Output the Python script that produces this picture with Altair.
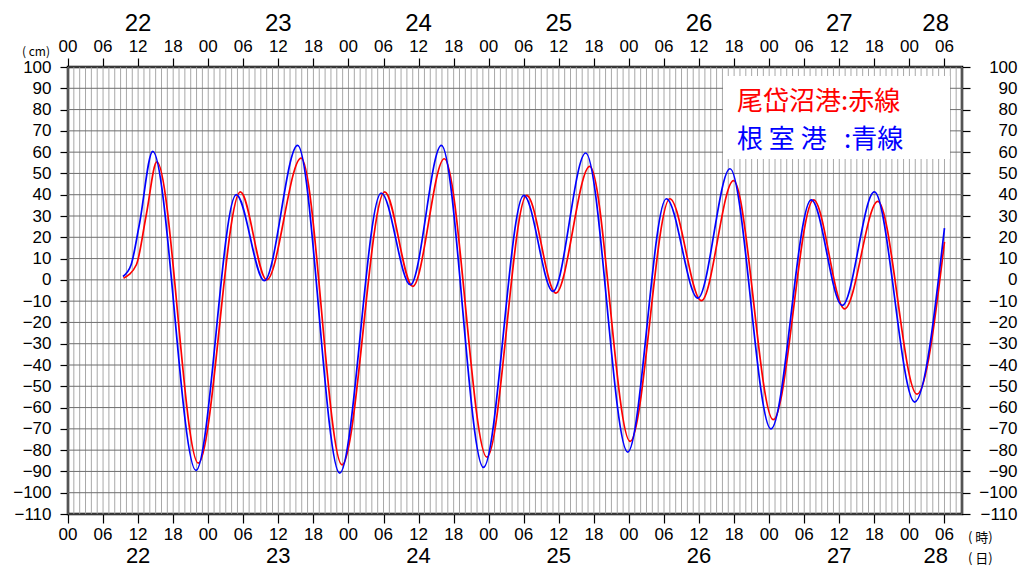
import altair as alt
import pandas as pd

# ---- data (hours since 22日 00時, cm) ----
DAYS = ["22", "23", "24", "25", "26", "27", "28"]
HOUR_LABELS = ["00", "06", "12", "18"]
Y_TICKS = list(range(-110, 101, 10))
X_END = 153

RED_T = [9.5, 11.7, 13.4, 15.2, 22.3, 29.5, 34.0, 39.9, 46.9, 54.2, 59.0, 64.4,
         71.7, 78.5, 83.5, 89.3, 96.2, 103.0, 108.4, 113.9, 120.7, 127.6, 132.9,
         138.6, 145.3, 150.0]
RED_V = [0.8, 7.1, 30.6, 55.4, -86.1, 41.3, 0.0, 57.2, -86.9, 41.3, -3.1, 56.9,
         -83.3, 39.7, -6.2, 53.3, -75.9, 38.1, -9.8, 46.6, -65.7, 37.6, -13.6,
         36.9, -53.7, 17.8]

BLUE_T = [9.4, 10.8, 12.2, 14.5, 21.9, 28.8, 33.6, 39.3, 46.5, 53.6, 58.6, 63.9,
          71.1, 78.0, 83.0, 88.6, 95.8, 102.4, 107.8, 113.3, 120.3, 127.2, 132.5,
          138.0, 144.9, 150.0]
BLUE_V = [1.6, 7.1, 25.9, 60.4, -89.5, 40.0, -0.4, 63.2, -90.8, 40.8, -2.3, 63.2,
          -88.1, 39.7, -5.4, 59.6, -80.9, 38.1, -8.6, 52.2, -70.0, 37.6, -12.0,
          41.3, -57.4, 24.3]

LEGEND_RED = "尾岱沼港:赤線"
LEGEND_BLUE = "根 室 港 \u00a0 :青線"
UNIT_Y = "( cm)"
UNIT_HOUR = "( 時)"
UNIT_DAY = "( 日)"

W, H = 894, 447
NUM_FONT = "Liberation Sans"
JP_FONT = "Noto Sans CJK JP"

xs = alt.Scale(domain=[0, X_END], nice=False, zero=False)
ys = alt.Scale(domain=[-110, 100], nice=False, zero=False)

red_df = pd.DataFrame({"t": RED_T, "v": RED_V})
blue_df = pd.DataFrame({"t": BLUE_T, "v": BLUE_V})
hours_df = pd.DataFrame({"h": list(range(0, X_END + 1))})
tens_df = pd.DataFrame({"v": Y_TICKS})
six_hours = list(range(0, X_END + 1, 6))
six_df = pd.DataFrame({
    "h": six_hours,
    "lab": [HOUR_LABELS[(h // 6) % len(HOUR_LABELS)] for h in six_hours],
})
day_df = pd.DataFrame({
    "day": DAYS,
    "pos": [(24 * i + min(24 * i + 24, X_END)) / 2 for i in range(len(DAYS))],
})
one = pd.DataFrame({"a": [0]})

common_x = dict(values=six_hours, labels=False, title=None, domain=False,
                grid=False, tickSize=9, tickColor="black", tickWidth=1.2)
common_y = dict(values=Y_TICKS, title=None, domain=False, grid=False, tickSize=8,
                tickColor="black", tickWidth=1.2, labelFontSize=17,
                labelFont=NUM_FONT, labelColor="black", labelFlush=False,
                labelOverlap=False, format="d")

bottom_axis = alt.Axis(orient="bottom", **common_x)
top_axis = alt.Axis(orient="top", **common_x)
left_axis = alt.Axis(orient="left", labelPadding=9, **common_y)
right_axis = alt.Axis(orient="right", labelPadding=47, labelAlign="right", **common_y)

vgrid = alt.Chart(hours_df).mark_rule(color="#a8a8a8", strokeWidth=1).encode(
    x=alt.X("h:Q", scale=xs, axis=None))
hgrid = alt.Chart(tens_df).mark_rule(color="#6e6e6e", strokeWidth=1).encode(
    y=alt.Y("v:Q", scale=ys, axis=None))

red_line = alt.Chart(red_df).mark_line(color="#ff0000", strokeWidth=1.7,
                                       interpolate="monotone").encode(
    x=alt.X("t:Q", scale=xs, axis=bottom_axis),
    y=alt.Y("v:Q", scale=ys, axis=left_axis))
blue_line = alt.Chart(blue_df).mark_line(color="#0000ff", strokeWidth=1.7,
                                         interpolate="monotone").encode(
    x=alt.X("t:Q", scale=xs, axis=top_axis),
    y=alt.Y("v:Q", scale=ys, axis=right_axis))


def x_text(df, field, ypos, size):
    return alt.Chart(df).mark_text(fontSize=size, font=NUM_FONT, color="black",
                                   baseline="alphabetic").encode(
        x=alt.X("h:Q" if field == "lab" else "pos:Q", scale=xs, axis=None),
        y=alt.value(ypos), text=f"{field}:N")


hour_top = x_text(six_df, "lab", -15, 17)
hour_bottom = x_text(six_df, "lab", H + 25.5, 17)
day_top = x_text(day_df, "day", -36, 24)
day_bottom = x_text(day_df, "day", H + 49, 22)

legend_box = alt.Chart(one).mark_rect(color="white", opacity=1).encode(
    x=alt.value(655), x2=alt.value(882), y=alt.value(9), y2=alt.value(92))
legend_red = alt.Chart(one).mark_text(text=LEGEND_RED, fontSize=26, font=JP_FONT,
                                      color="#ff0000", align="left",
                                      baseline="alphabetic").encode(
    x=alt.value(669), y=alt.value(43))
legend_blue = alt.Chart(one).mark_text(text=LEGEND_BLUE, fontSize=26, font=JP_FONT,
                                       color="#0000ff", align="left",
                                       baseline="alphabetic").encode(
    x=alt.value(669), y=alt.value(81))

unit_y = alt.Chart(one).mark_text(text=UNIT_Y, fontSize=12, font=JP_FONT,
                                  color="black", align="right",
                                  baseline="alphabetic").encode(
    x=alt.value(-18), y=alt.value(-11))
unit_h = alt.Chart(one).mark_text(text=UNIT_HOUR, fontSize=13, font=JP_FONT,
                                  color="black", align="left",
                                  baseline="alphabetic").encode(
    x=alt.value(W + 6), y=alt.value(H + 28))
unit_d = alt.Chart(one).mark_text(text=UNIT_DAY, fontSize=13, font=JP_FONT,
                                  color="black", align="left",
                                  baseline="alphabetic").encode(
    x=alt.value(W + 6), y=alt.value(H + 49))

chart = alt.layer(
    vgrid, hgrid, red_line, blue_line, hour_top, hour_bottom, day_top, day_bottom,
    legend_box, legend_red, legend_blue, unit_y, unit_h, unit_d,
).resolve_axis(x="independent", y="independent").properties(
    width=W, height=H,
    padding={"left": 60, "top": 59, "right": 57, "bottom": 54},
    autosize=alt.AutoSizeParams(type="none"),
    background="white",
).configure_view(stroke="black", strokeWidth=2.5)

chart.save("out.html", embed_options={"renderer": "svg", "actions": False})
